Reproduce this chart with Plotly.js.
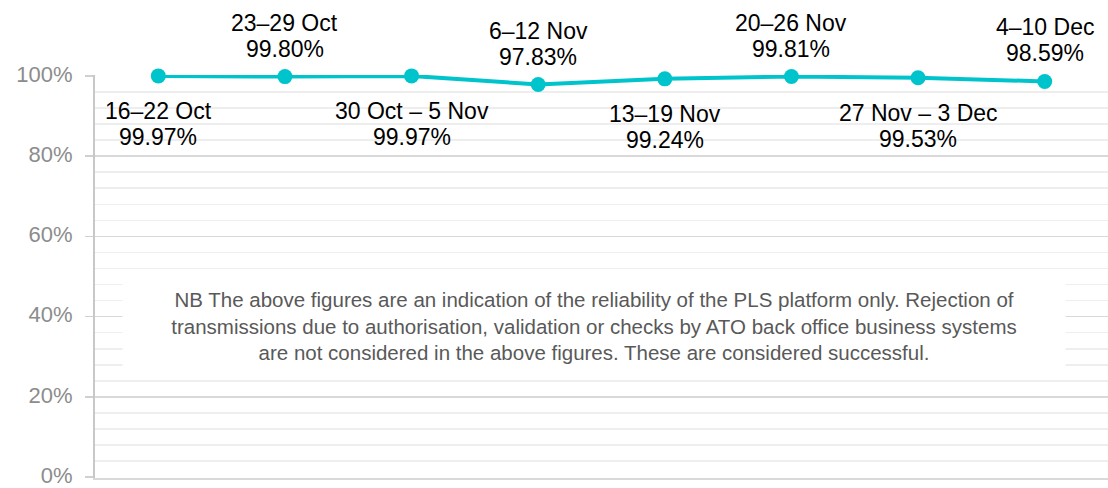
<!DOCTYPE html>
<html>
<head>
<meta charset="utf-8">
<script src="https://cdn.plot.ly/plotly-3.0.1.min.js"></script>
<style>html,body{margin:0;padding:0;background:#fff}#chart{width:1108px;height:488px}</style>
</head>
<body>
<div id="chart"></div>
<script>
const weeks = ["16–22 Oct","23–29 Oct","30 Oct – 5 Nov","6–12 Nov","13–19 Nov","20–26 Nov","27 Nov – 3 Dec","4–10 Dec"];
const availability = [99.97, 99.80, 99.97, 97.83, 99.24, 99.81, 99.53, 98.59];
const labelAbove = [false, true, false, true, false, true, false, true];
const yTickVals = [0, 0.2, 0.4, 0.6, 0.8, 1.0];
const noteText = "NB The above figures are an indication of the reliability of the PLS platform only. Rejection of<br>transmissions due to authorisation, validation or checks by ATO back office business systems<br>are not considered in the above figures. These are considered successful.";

const FONT = "Liberation Sans, Arial, sans-serif";
const yVals = availability.map(v => v / 100);

const trace = {
  x: weeks,
  y: yVals,
  type: "scatter",
  mode: "lines+markers",
  line: {color: "#00C4CC", width: 4},
  marker: {color: "#00C4CC", size: 15},
  cliponaxis: false,
  hoverinfo: "skip"
};

const labelFont = {family: FONT, size: 23, color: "#000"};
const annotations = [];
weeks.forEach((w, i) => {
  const above = labelAbove[i];
  annotations.push({
    x: w, y: yVals[i], xref: "x", yref: "y",
    text: w, showarrow: false, xanchor: "center", yanchor: "middle",
    yshift: above ? 54 : -35, font: labelFont
  });
  annotations.push({
    x: w, y: yVals[i], xref: "x", yref: "y",
    text: availability[i].toFixed(2) + "%", showarrow: false, xanchor: "center", yanchor: "middle",
    yshift: above ? 28 : -61, font: labelFont
  });
});

annotations.push({
  x: 0.4926, y: 0.377, xref: "paper", yref: "y",
  text: noteText, showarrow: false,
  xanchor: "center", yanchor: "middle",
  width: 940, height: 98, borderpad: 1,
  bgcolor: "#fff",
  font: {family: FONT, size: 20.5, color: "#595959"}
});

const layout = {
  width: 1108, height: 488,
  margin: {l: 95, r: 0, t: 75, b: 10},
  paper_bgcolor: "#fff", plot_bgcolor: "#fff",
  showlegend: false,
  xaxis: {
    type: "category", range: [-0.5, 7.5],
    showticklabels: false, showgrid: false, zeroline: false,
    showline: true, linecolor: "#d9d9d9", linewidth: 1.5, ticks: ""
  },
  yaxis: {
    range: [-0.002, 1.002], tickvals: yTickVals, tickformat: ".0%",
    showgrid: true, gridcolor: "#d9d9d9", gridwidth: 1.5,
    zeroline: false, showline: true, linecolor: "#c8c8c8", linewidth: 2,
    ticks: "outside", ticklen: 8, tickcolor: "#d0d0d0", tickwidth: 1.5,
    ticklabelstandoff: 8, ticklabeloverflow: "allow", ticklabelshift: -2,
    tickfont: {family: FONT, size: 22, color: "#8c8c8c"},
    minor: {dtick: 0.04, tick0: 0, showgrid: true, gridcolor: "#eeeeee", gridwidth: 1.5, ticks: ""}
  },
  annotations: annotations
};

Plotly.newPlot("chart", [trace], layout, {displayModeBar: false, staticPlot: true});
</script>
</body>
</html>
